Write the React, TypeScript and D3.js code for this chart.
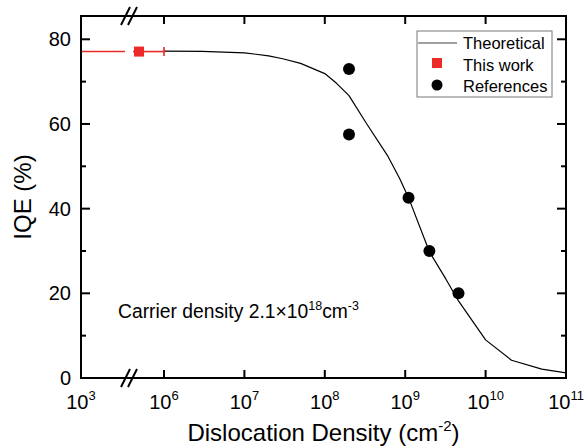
import React from "react";
import * as d3 from "d3";

// ---- data ----
const curveDensity = [1e6, 3e6, 1e7, 2e7, 3e7, 5e7, 1e8, 1.4e8, 2e8, 3.3e8, 6e8, 8.5e8, 1e9, 1.1e9, 2e9, 3.2e9, 4.6e9, 1e10, 2.1e10, 5e10, 1e11];
const curveIQE = [77.2, 77.15, 76.8, 76.1, 75.4, 74.3, 71.9, 69.6, 66.7, 60.1, 52.6, 47.2, 44.3, 42.6, 29.8, 23.4, 18.2, 9, 4.2, 2.1, 1.2];
const refDensity = [2e8, 2e8, 1.1e9, 2e9, 4.6e9];
const refIQE = [73.0, 57.5, 42.6, 30.0, 20.0];
const workDensity = [1.25e5];
const workIQE = [77.1];
const workErrLo = [1e3];
const workErrHi = [1e6];
const xTickExp = [3, 6, 7, 8, 9, 10, 11];
const yMajor = [0, 20, 40, 60, 80];
const yMinor = [10, 30, 50, 70];
const legendLabels = ["Theoretical", "This work", "References"];

const W = 587, H = 448;
const L = 81, R = 566, T = 16, B = 378;
const RED = "#ec2a27";
const FONT = "'Liberation Sans', Arial, sans-serif";

// broken log axis: 10^3..10^6 compressed, 10^6..10^11 regular
const xs = d3.scaleLinear().domain([3, 6, 11]).range([L, 164, R]);
const X = (v: number) => xs(Math.log10(v));
const Y = d3.scaleLinear().domain([0, 85.5]).range([B, T]);
const BREAK_LO = 4.59, BREAK_HI = 4.88;

export default function App() {
  const line = d3
    .line<number>()
    .x((_, i) => X(curveDensity[i]))
    .y((d) => Y(d));
  const mid = xs((BREAK_LO + BREAK_HI) / 2);
  const breakXs = [mid - 3.5, mid + 3.5];
  return (
    <svg width={W} height={H} style={{ position: "absolute", left: 0, top: 0, background: "#fff" }} fontFamily={FONT}>
      {/* curve */}
      <path d={line(curveIQE) || ""} fill="none" stroke="#000" strokeWidth={1.2} strokeLinejoin="round" />
      {/* this work error bar */}
      {workDensity.map((d, i) => {
        const y = Y(workIQE[i]);
        const lo = X(workErrLo[i]), hi = X(workErrHi[i]);
        const g1 = xs(BREAK_LO), g2 = xs(BREAK_HI);
        const cx = X(d);
        return (
          <g key={i}>
            <line x1={lo} x2={g1} y1={y} y2={y} stroke={RED} strokeWidth={1.6} />
            <line x1={g2} x2={hi} y1={y} y2={y} stroke={RED} strokeWidth={1.6} />
            <line x1={hi} x2={hi} y1={y - 4.5} y2={y + 4.5} stroke={RED} strokeWidth={1.6} />
            <rect x={cx - 5} y={y - 5} width={10} height={10} fill={RED} />
          </g>
        );
      })}
      {/* references */}
      {refDensity.map((d, i) => (
        <circle key={i} cx={X(d)} cy={Y(refIQE[i])} r={6} fill="#000" />
      ))}
      {/* frame */}
      <rect x={L} y={T} width={R - L} height={B - T} fill="none" stroke="#000" strokeWidth={2} />
      {/* x ticks */}
      {xTickExp.filter((e) => e > 3 && e < 11).map((e) => (
        <g key={e}>
          <line x1={xs(e)} x2={xs(e)} y1={B} y2={B - 8} stroke="#000" strokeWidth={2} />
          <line x1={xs(e)} x2={xs(e)} y1={T} y2={T + 8} stroke="#000" strokeWidth={2} />
        </g>
      ))}
      {xTickExp.map((e) => (
        <text key={e} x={xs(e)} y={409} fontSize={20} textAnchor="middle">
          10<tspan fontSize={13} dy={-9}>{e}</tspan>
        </text>
      ))}
      {/* y ticks */}
      {yMajor.map((v) => (
        <g key={v}>
          {v > 0 && <line x1={L} x2={L + 9} y1={Y(v)} y2={Y(v)} stroke="#000" strokeWidth={2} />}
          {v > 0 && <line x1={R} x2={R - 9} y1={Y(v)} y2={Y(v)} stroke="#000" strokeWidth={2} />}
          <text x={71} y={Y(v) + 7} fontSize={20} textAnchor="end">{v}</text>
        </g>
      ))}
      {yMinor.map((v) => (
        <g key={v}>
          <line x1={L} x2={L + 5} y1={Y(v)} y2={Y(v)} stroke="#000" strokeWidth={2} />
          <line x1={R} x2={R - 5} y1={Y(v)} y2={Y(v)} stroke="#000" strokeWidth={2} />
        </g>
      ))}
      {/* break marks */}
      {[T, B].map((y) =>
        breakXs.map((bx, j) => (
          <line key={`${y}-${j}`} x1={bx - 4.5} y1={y + 9} x2={bx + 4.5} y2={y - 9} stroke="#000" strokeWidth={2} />
        ))
      )}
      {/* axis labels */}
      <text x={(L + R) / 2} y={441} fontSize={24} textAnchor="middle">
        Dislocation Density (cm<tspan fontSize={15} dy={-10}>-2</tspan><tspan dy={10}>)</tspan>
      </text>
      <text transform={`translate(31, ${(T + B) / 2}) rotate(-90)`} fontSize={24} textAnchor="middle">IQE (%)</text>
      {/* annotation */}
      <text x={118} y={318} fontSize={19.3}>
        Carrier density 2.1×10<tspan fontSize={12.5} dy={-8}>18</tspan><tspan dy={8}>cm</tspan><tspan fontSize={12.5} dy={-8}>-3</tspan>
      </text>
      {/* legend */}
      <rect x={417} y={31} width={135} height={66} fill="#fff" stroke="#777" strokeWidth={1} />
      <line x1={418} x2={457} y1={43} y2={43} stroke="#444" strokeWidth={1.2} />
      <rect x={432} y={58} width={10} height={10} fill={RED} />
      <circle cx={437} cy={85} r={5.5} fill="#000" />
      {legendLabels.map((t, i) => (
        <text key={t} x={463} y={49 + i * 21.5} fontSize={16.5}>{t}</text>
      ))}
    </svg>
  );
}
